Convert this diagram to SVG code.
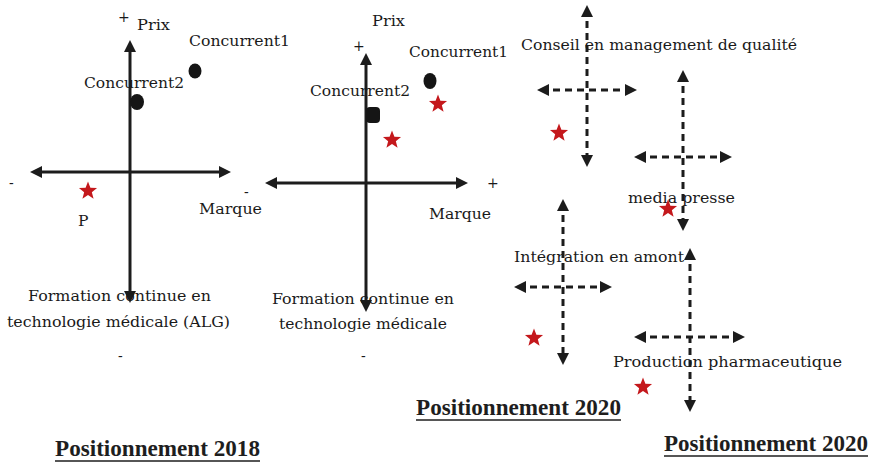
<svg xmlns="http://www.w3.org/2000/svg" width="875" height="463" viewBox="0 0 875 463">
  <style>
    .lbl { font-family: "DejaVu Serif", "Liberation Serif", serif; font-size: 15.5px; fill: #1a1a1a; }
    .sign { font-family: "DejaVu Serif", "Liberation Serif", serif; font-size: 14px; fill: #1a1a1a; }
    .title { font-family: "Liberation Serif", "Times New Roman", serif; font-size: 22.5px; font-weight: bold; fill: #1e1e1e; }
    .ul { stroke: #1e1e1e; stroke-width: 1.6; }
    .axis { stroke: #1c1c1c; stroke-width: 3; fill: none; marker-start: url(#tip); marker-end: url(#tip); }
    .dash { stroke: #1c1c1c; stroke-width: 3; fill: none; stroke-dasharray: 7 5; marker-start: url(#tip); marker-end: url(#tip); }
    .dot { fill: #151515; }
    .star { fill: #c4181c; }
  </style>
  <defs>
    <marker id="tip" markerUnits="userSpaceOnUse" markerWidth="12" markerHeight="12" viewBox="0 0 12 12" refX="8" refY="6" orient="auto-start-reverse">
      <path d="M0,0 L12,6 L0,12 Z" fill="#1c1c1c"/>
    </marker>
    <path id="star-shape" d="M0,-9.5 L2.4,-3.3 L9.04,-2.94 L3.84,1.25 L5.58,7.69 L0,4.05 L-5.58,7.69 L-3.84,1.25 L-9.04,-2.94 L-2.4,-3.3 Z"/>
  </defs>

  <!-- axes and dashed crosses -->
  <g id="connectors">
    <!-- 2018 map -->
    <line class="axis" x1="130" y1="44" x2="130" y2="299"/>
    <line class="axis" x1="34" y1="172" x2="227" y2="172"/>
    <!-- 2020 map -->
    <line class="axis" x1="366" y1="57" x2="366" y2="308"/>
    <line class="axis" x1="269" y1="183" x2="464" y2="183"/>
    <!-- 2020 segment crosses -->
    <line class="dash" x1="587" y1="9" x2="587" y2="163"/>
    <line class="dash" x1="541" y1="90" x2="633" y2="90"/>
    <line class="dash" x1="683" y1="74" x2="683" y2="227"/>
    <line class="dash" x1="638" y1="157" x2="728" y2="157"/>
    <line class="dash" x1="563" y1="203" x2="563" y2="361"/>
    <line class="dash" x1="518" y1="287" x2="608" y2="287"/>
    <line class="dash" x1="690" y1="252" x2="690" y2="408"/>
    <line class="dash" x1="638" y1="337" x2="741" y2="337"/>
  </g>

  <!-- Positionnement 2018 -->
  <g id="map-2018">
    <text class="sign" x="118" y="22">+</text>
    <text class="lbl" x="137" y="30" textLength="33" lengthAdjust="spacingAndGlyphs">Prix</text>
    <text class="sign" x="9" y="188">-</text>
    <text class="lbl" x="199" y="214" textLength="63" lengthAdjust="spacingAndGlyphs">Marque</text>
    <text class="lbl" x="28" y="301" textLength="183" lengthAdjust="spacingAndGlyphs">Formation continue en</text>
    <text class="lbl" x="7" y="327" textLength="223" lengthAdjust="spacingAndGlyphs">technologie médicale (ALG)</text>
    <text class="sign" x="118" y="361">-</text>
    <text class="title" x="55" y="456" textLength="205" lengthAdjust="spacingAndGlyphs">Positionnement 2018</text>
    <line class="ul" x1="55" y1="461" x2="260" y2="461"/>
  </g>
  <g id="c1-2018">
    <text class="lbl" x="189" y="46" textLength="101" lengthAdjust="spacingAndGlyphs">Concurrent1</text>
    <ellipse class="dot" cx="195" cy="71" rx="6.5" ry="7.5"/>
  </g>
  <g id="c2-2018">
    <text class="lbl" x="84" y="88" textLength="100" lengthAdjust="spacingAndGlyphs">Concurrent2</text>
    <ellipse class="dot" cx="137" cy="102" rx="7" ry="8"/>
  </g>
  <g id="p-2018">
    <use href="#star-shape" class="star" x="88" y="191"/>
    <text class="lbl" x="78" y="226">P</text>
  </g>

  <!-- Positionnement 2020 (map) -->
  <g id="map-2020">
    <text class="lbl" x="372" y="26" textLength="33" lengthAdjust="spacingAndGlyphs">Prix</text>
    <text class="sign" x="353" y="51">+</text>
    <text class="sign" x="244" y="197">-</text>
    <text class="sign" x="487" y="188">+</text>
    <text class="lbl" x="429" y="219" textLength="62" lengthAdjust="spacingAndGlyphs">Marque</text>
    <text class="lbl" x="272" y="304" textLength="182" lengthAdjust="spacingAndGlyphs">Formation continue en</text>
    <text class="lbl" x="279" y="329" textLength="168" lengthAdjust="spacingAndGlyphs">technologie médicale</text>
    <text class="sign" x="361" y="361">-</text>
    <text class="title" x="416" y="415" textLength="205" lengthAdjust="spacingAndGlyphs">Positionnement 2020</text>
    <line class="ul" x1="416" y1="420" x2="621" y2="420"/>
  </g>
  <g id="c1-2020">
    <text class="lbl" x="409" y="57" textLength="99" lengthAdjust="spacingAndGlyphs">Concurrent1</text>
    <ellipse class="dot" cx="430" cy="81" rx="6.5" ry="8"/>
    <use href="#star-shape" class="star" x="438" y="104"/>
  </g>
  <g id="c2-2020">
    <text class="lbl" x="310" y="96" textLength="100" lengthAdjust="spacingAndGlyphs">Concurrent2</text>
    <rect class="dot" x="366" y="107" width="14" height="16" rx="4"/>
    <use href="#star-shape" class="star" x="392" y="140"/>
  </g>

  <!-- Positionnement 2020 (segments) -->
  <g id="seg-conseil">
    <text class="lbl" x="521" y="50" textLength="276" lengthAdjust="spacingAndGlyphs">Conseil en management de qualité</text>
    <use href="#star-shape" class="star" x="559" y="133"/>
  </g>
  <g id="seg-media">
    <text class="lbl" x="628" y="203" textLength="107" lengthAdjust="spacingAndGlyphs">media presse</text>
    <use href="#star-shape" class="star" x="668" y="209"/>
  </g>
  <g id="seg-integration">
    <text class="lbl" x="514" y="262" textLength="170" lengthAdjust="spacingAndGlyphs">Intégration en amont</text>
    <use href="#star-shape" class="star" x="534" y="338"/>
  </g>
  <g id="seg-production">
    <text class="lbl" x="613" y="367" textLength="229" lengthAdjust="spacingAndGlyphs">Production  pharmaceutique</text>
    <use href="#star-shape" class="star" x="643" y="387"/>
  </g>
  <g id="title-segments">
    <text class="title" x="664" y="451" textLength="204" lengthAdjust="spacingAndGlyphs">Positionnement 2020</text>
    <line class="ul" x1="664" y1="456" x2="868" y2="456"/>
  </g>
</svg>
